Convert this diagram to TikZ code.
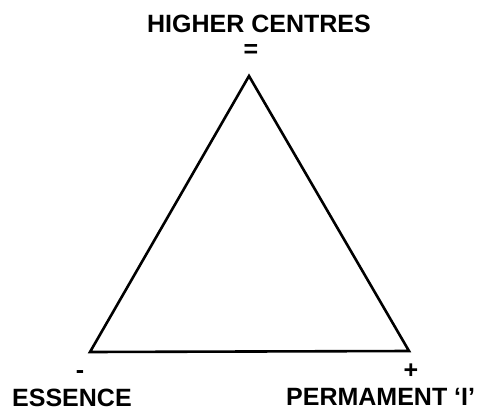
\documentclass[tikz,border=0pt]{standalone}
\usepackage{fontspec}
\setmainfont{Liberation Sans}
\begin{document}
\begin{tikzpicture}[x=1pt,y=-1pt,
  lbl/.style={font=\bfseries\fontsize{25}{25}\selectfont, inner sep=0pt},
  edge/.style={line width=2.6pt, line join=miter}]
\useasboundingbox (0,0) rectangle (477,410);
\coordinate (apex) at (249,76);
\coordinate (left) at (90,352);
\coordinate (right) at (409,351);
\draw[edge] (apex) -- (right) -- (left) -- cycle;
\node[lbl, anchor=base] (hc) at (259,32) {HIGHER CENTRES};
\node[lbl, anchor=base] (eq) at (251,57) {=};
\node[lbl, anchor=base] (minus) at (80,378) {-};
\node[lbl, anchor=base] (plus) at (411,378) {+};
\node[lbl, anchor=base west] (ess) at (12,406) {ESSENCE};
\node[lbl, anchor=base west] (perm) at (286,405) {PERMAMENT ‘I’};
\end{tikzpicture}
\end{document}
